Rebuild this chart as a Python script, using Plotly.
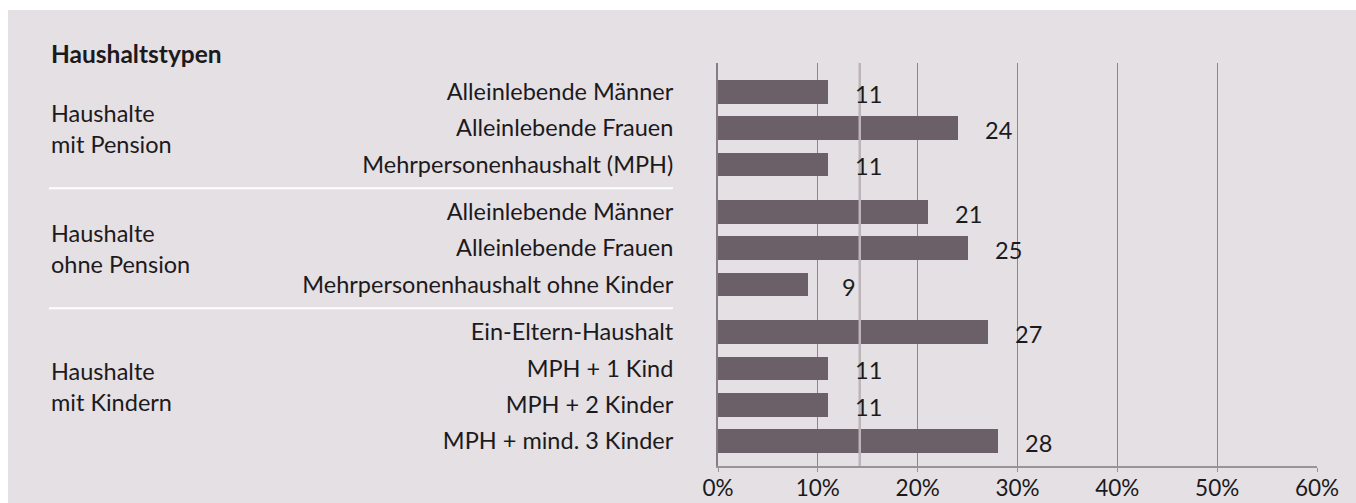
import plotly.graph_objects as go

# Haushaltstypen: categories, groups and shares (in %)
gruppen = ["Haushalte<br>mit Pension", "Haushalte<br>ohne Pension", "Haushalte<br>mit Kindern"]
kategorien = [
    "Alleinlebende Männer",
    "Alleinlebende Frauen",
    "Mehrpersonenhaushalt (MPH)",
    "Alleinlebende Männer",
    "Alleinlebende Frauen",
    "Mehrpersonenhaushalt ohne Kinder",
    "Ein-Eltern-Haushalt",
    "MPH + 1 Kind",
    "MPH + 2 Kinder",
    "MPH + mind. 3 Kinder",
]
gruppe_je_kategorie = [0, 0, 0, 1, 1, 1, 2, 2, 2, 2]
werte = [11, 24, 11, 21, 25, 9, 27, 11, 11, 28]
referenzwert = 14.2
x_ticks = [0, 10, 20, 30, 40, 50, 60]

FONT = "Lato"
FS = 23.5
TXT = "#1c1a1c"
BG = "#e4e0e3"
BAR = "#6c6068"
GRID = "#8e868c"

# vertical positions: one unit per row, extra gap between groups
GAP = 0.31
pos = [i + GAP * g for i, g in enumerate(gruppe_je_kategorie)]

fig = go.Figure()
fig.add_trace(go.Bar(
    x=werte, y=pos, orientation="h", width=0.653,
    marker=dict(color=BAR, line=dict(width=0)),
    hoverinfo="skip", showlegend=False,
))

# value labels to the right of each bar
for v, p in zip(werte, pos):
    fig.add_annotation(x=v, y=p, xref="x", yref="y", text=str(v),
                       showarrow=False, xanchor="center", yanchor="middle",
                       xshift=41, yshift=-2,
                       font=dict(family=FONT, size=FS, color=TXT))

# reference line
fig.add_shape(type="line", xref="x", yref="paper", x0=referenzwert, x1=referenzwert,
              y0=0, y1=1, line=dict(color="#bcb4b9", width=2.5), layer="above")

# plot geometry in pixels (for placing items in the label column)
W, H = 1356, 503
L, R, T, B = 718, 1317, 63, 466
pw, ph = R - L, B - T
def px_x(x):
    return (x - L) / pw
def px_y(y):
    return (B - y) / ph

# white frame strips along the top and left of the tinted panel
fig.add_shape(type="rect", xref="paper", yref="paper",
              x0=px_x(-20), x1=px_x(W + 20), y0=px_y(10), y1=px_y(-20),
              fillcolor="white", line=dict(width=0), layer="below")
fig.add_shape(type="rect", xref="paper", yref="paper",
              x0=px_x(-20), x1=px_x(8), y0=px_y(-20), y1=px_y(H + 20),
              fillcolor="white", line=dict(width=0), layer="below")

# group labels and separators
for g, name in enumerate(gruppen):
    members = [p for p, gg in zip(pos, gruppe_je_kategorie) if gg == g]
    mid = (members[0] + members[-1]) / 2
    fig.add_annotation(x=px_x(49), y=mid, xref="paper", yref="y", text=name,
                       showarrow=False, xanchor="left", yanchor="middle", align="left",
                       font=dict(family=FONT, size=FS, color=TXT))
for g in range(1, len(gruppen)):
    prev_last = max(p for p, gg in zip(pos, gruppe_je_kategorie) if gg == g - 1)
    next_first = min(p for p, gg in zip(pos, gruppe_je_kategorie) if gg == g)
    ysep = (prev_last + next_first) / 2
    fig.add_shape(type="line", xref="paper", yref="y", x0=px_x(49), x1=px_x(673),
                  y0=ysep, y1=ysep, line=dict(color="white", width=2))

fig.add_annotation(x=px_x(49), y=px_y(54), xref="paper", yref="paper",
                   text="<b>Haushaltstypen</b>", showarrow=False,
                   xanchor="left", yanchor="middle",
                   font=dict(family=FONT, size=24.5, color=TXT))

unit = 36.3
top = -(91.8 - T) / unit
bottom = (B - 91.8) / unit

fig.update_layout(
    width=W, height=H,
    margin=dict(l=L, r=W - R, t=T, b=H - B, pad=0, autoexpand=False),
    paper_bgcolor=BG, plot_bgcolor="rgba(0,0,0,0)",
    font=dict(family=FONT, size=FS, color=TXT),
    bargap=0,
    xaxis=dict(range=[0, 60], tickvals=x_ticks, ticktext=[f"{t}%" for t in x_ticks],
               showgrid=True, gridcolor=GRID, gridwidth=1, automargin=False,
               zeroline=False, showline=True, linecolor="#9a9398", linewidth=2,
               ticks="outside", ticklen=4, tickcolor="#9a9398", tickwidth=1,
               ticklabelstandoff=-3,
               tickfont=dict(family=FONT, size=22.5, color=TXT), fixedrange=True),
    yaxis=dict(range=[bottom, top], tickvals=pos, ticktext=kategorien, automargin=False,
               showgrid=False, zeroline=False, showline=True, linecolor="#857d83",
               linewidth=2, ticks="", ticklabelstandoff=38,
               tickfont=dict(family=FONT, size=FS, color=TXT), fixedrange=True),
)

fig.write_html("out.html")
